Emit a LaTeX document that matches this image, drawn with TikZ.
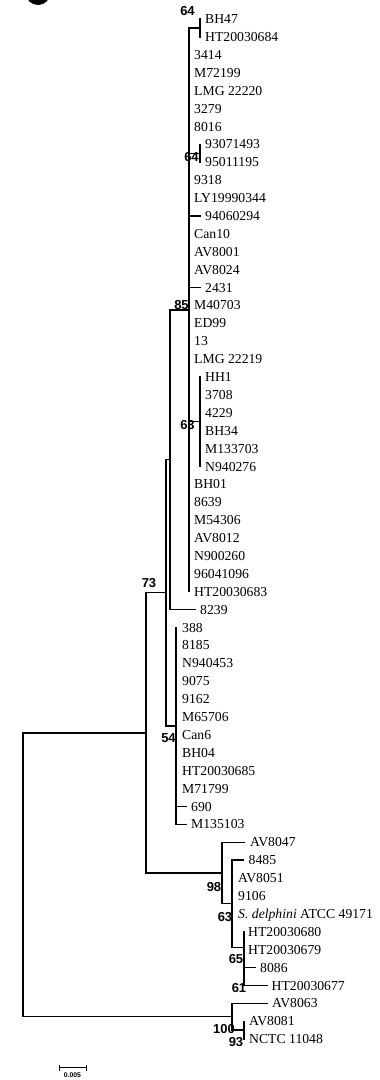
\documentclass[tikz,border=0pt]{standalone}
\usepackage{fontspec}
\setmainfont{Liberation Serif}
\newfontfamily\bsfam{Liberation Sans}
\begin{document}
\begin{tikzpicture}[x=1pt,y=-1pt,
  br/.style={line width=1.4pt, line cap=rect},
  leaf/.style={anchor=base west, inner sep=0pt, yshift=-4.6pt, font=\fontsize{13.7pt}{16pt}\selectfont},
  bs/.style={inner sep=0pt, font=\bsfam\bfseries\fontsize{13pt}{15pt}\selectfont},
  sc/.style={line width=1pt}]
\useasboundingbox (0,0) rectangle (380,1080);
\fill[white] (0,0) rectangle (380,1080);
\clip (0,0) rectangle (380,1080);
% panel marker (cut off at top)
\fill[black] (38,-7.5) circle (12.5pt);

% internal nodes
\coordinate (n64a) at (200,27.95);
\coordinate (n64b) at (200,153.25);
\coordinate (n63a) at (200,421.65);
\coordinate (n85) at (189,309.8);
\coordinate (nA) at (170,459.65);
\coordinate (n54) at (176,725.85);
\coordinate (nB) at (166,592.75);
\coordinate (nG) at (244,947.4);
\coordinate (nF) at (232,903.75);
\coordinate (nE) at (222,873.0);
\coordinate (nC) at (146,732.9);
\coordinate (nJ) at (244,1030.1);
\coordinate (nI) at (232,1016.7);
\coordinate (nD) at (23,874.8);

% tips / branch ends
\coordinate (t1) at (200,19.0);
\coordinate (t2) at (200,36.9);
\coordinate (t8) at (200,144.3);
\coordinate (t9) at (200,162.2);
\coordinate (e12) at (200,215.8);
\coordinate (e16) at (200,287.4);
\coordinate (t21) at (200,376.9);
\coordinate (t26) at (200,466.4);
\coordinate (t33) at (189,591.6);
\coordinate (e34) at (195,609.5);
\coordinate (t35) at (176,627.4);
\coordinate (e45) at (186,806.4);
\coordinate (e46) at (186,824.3);
\coordinate (e47) at (244,842.2);
\coordinate (e48) at (243,860.1);
\coordinate (t52) at (244,931.7);
\coordinate (e54) at (255,967.5);
\coordinate (e55) at (267,985.4);
\coordinate (e56) at (267,1003.3);
\coordinate (t57) at (244,1021.2);
\coordinate (t58) at (244,1039.0);

% connectors
\draw[br] (nC) -| (nD) |- (nI);
\draw[br] (nB) -| (nC) |- (nE);
\draw[br] (nA) -| (nB) |- (n54);
\draw[br] (n85) -| (nA) |- (e34);
\draw[br] (n64a) -| (n85) -- (t33);
\draw[br] (n85 |- n64b) -- (n64b);
\draw[br] (n85 |- e12) -- (e12);
\draw[br] (n85 |- e16) -- (e16);
\draw[br] (n85 |- n63a) -- (n63a);
\draw[br] (t1) -- (n64a) -- (t2);
\draw[br] (t8) -- (n64b) -- (t9);
\draw[br] (t21) -- (n63a) -- (t26);
\draw[br] (t35) |- (e46);
\draw[br] (n54 |- e45) -- (e45);
\draw[br] (e47) -| (nE) |- (nF);
\draw[br] (e48) -| (nF) |- (nG);
\draw[br] (t52) |- (e55);
\draw[br] (nG |- e54) -- (e54);
\draw[br] (e56) -| (nI) |- (nJ);
\draw[br] (t57) -- (nJ) -- (t58);

% leaf labels
\node[leaf] (l1) at (205,19.0) {BH47};
\node[leaf] (l2) at (205,36.9) {HT20030684};
\node[leaf] (l3) at (194,54.8) {3414};
\node[leaf] (l4) at (194,72.7) {M72199};
\node[leaf] (l5) at (194,90.6) {LMG 22220};
\node[leaf] (l6) at (194,108.5) {3279};
\node[leaf] (l7) at (194,126.4) {8016};
\node[leaf] (l8) at (205,144.3) {93071493};
\node[leaf] (l9) at (205,162.2) {95011195};
\node[leaf] (l10) at (194,180.1) {9318};
\node[leaf] (l11) at (194,197.9) {LY19990344};
\node[leaf] (l12) at (205,215.8) {94060294};
\node[leaf] (l13) at (194,233.7) {Can10};
\node[leaf] (l14) at (194,251.6) {AV8001};
\node[leaf] (l15) at (194,269.5) {AV8024};
\node[leaf] (l16) at (205,287.4) {2431};
\node[leaf] (l17) at (194,305.3) {M40703};
\node[leaf] (l18) at (194,323.2) {ED99};
\node[leaf] (l19) at (194,341.1) {13};
\node[leaf] (l20) at (194,359.0) {LMG 22219};
\node[leaf] (l21) at (205,376.9) {HH1};
\node[leaf] (l22) at (205,394.8) {3708};
\node[leaf] (l23) at (205,412.7) {4229};
\node[leaf] (l24) at (205,430.6) {BH34};
\node[leaf] (l25) at (205,448.5) {M133703};
\node[leaf] (l26) at (205,466.4) {N940276};
\node[leaf] (l27) at (194,484.3) {BH01};
\node[leaf] (l28) at (194,502.2) {8639};
\node[leaf] (l29) at (194,520.1) {M54306};
\node[leaf] (l30) at (194,538.0) {AV8012};
\node[leaf] (l31) at (194,555.9) {N900260};
\node[leaf] (l32) at (194,573.8) {96041096};
\node[leaf] (l33) at (194,591.6) {HT20030683};
\node[leaf] (l34) at (200,609.5) {8239};
\node[leaf] (l35) at (182,627.4) {388};
\node[leaf] (l36) at (182,645.3) {8185};
\node[leaf] (l37) at (182,663.2) {N940453};
\node[leaf] (l38) at (182,681.1) {9075};
\node[leaf] (l39) at (182,699.0) {9162};
\node[leaf] (l40) at (182,716.9) {M65706};
\node[leaf] (l41) at (182,734.8) {Can6};
\node[leaf] (l42) at (182,752.7) {BH04};
\node[leaf] (l43) at (182,770.6) {HT20030685};
\node[leaf] (l44) at (182,788.5) {M71799};
\node[leaf] (l45) at (191,806.4) {690};
\node[leaf] (l46) at (191,824.3) {M135103};
\node[leaf] (l47) at (250,842.2) {AV8047};
\node[leaf] (l48) at (248.5,860.1) {8485};
\node[leaf] (l49) at (238,878.0) {AV8051};
\node[leaf] (l50) at (238,895.9) {9106};
\node[leaf] (l51) at (238,913.8) {{\itshape S. delphini} ATCC 49171};
\node[leaf] (l52) at (248,931.7) {HT20030680};
\node[leaf] (l53) at (248,949.6) {HT20030679};
\node[leaf] (l54) at (260,967.5) {8086};
\node[leaf] (l55) at (271.5,985.4) {HT20030677};
\node[leaf] (l56) at (272,1003.3) {AV8063};
\node[leaf] (l57) at (249,1021.2) {AV8081};
\node[leaf] (l58) at (249,1039.0) {NCTC 11048};

% bootstrap values
\node[bs] (b1) at (187.5,11.5) {64};
\node[bs] (b2) at (191.5,157.5) {64};
\node[bs] (b3) at (181.5,305) {85};
\node[bs] (b4) at (187.5,425) {63};
\node[bs] (b5) at (149,583) {73};
\node[bs] (b6) at (168.5,738) {54};
\node[bs] (b7) at (214,887) {98};
\node[bs] (b8) at (225,917) {63};
\node[bs] (b9) at (236,959) {65};
\node[bs] (b10) at (239,988) {61};
\node[bs] (b11) at (224,1029) {100};
\node[bs] (b12) at (236,1042) {93};

% scale bar
\coordinate (s1) at (59,1067.7);
\coordinate (s2) at (86.7,1067.7);
\draw[sc] (s1) -- (s2);
\draw[sc] ([yshift=2.8pt]s1) -- ([yshift=-2.8pt]s1);
\draw[sc] ([yshift=2.8pt]s2) -- ([yshift=-2.8pt]s2);
\node[inner sep=0pt, font=\bsfam\bfseries\fontsize{6.8pt}{8pt}\selectfont] (sl) at (72.5,1075.5) {0.005};
\end{tikzpicture}
\end{document}
